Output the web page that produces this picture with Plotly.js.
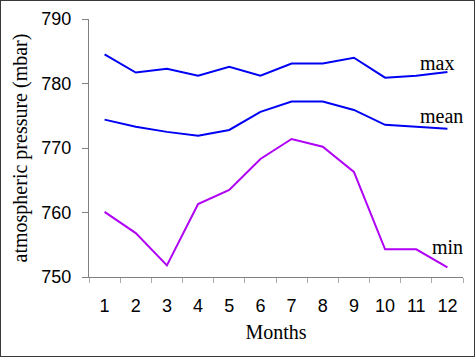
<!DOCTYPE html>
<html>
<head>
<meta charset="utf-8">
<script src="https://cdn.plot.ly/plotly-3.0.1.min.js"></script>
<style>
html,body{margin:0;padding:0;background:#fff;}
#chart{width:473px;height:355px;border:1px solid #3a3a3a;}
</style>
</head>
<body>
<div id="chart"></div>
<script>
const months = ['1','2','3','4','5','6','7','8','9','10','11','12'];
const maxValues  = [784.5, 781.7, 782.3, 781.2, 782.6, 781.2, 783.1, 783.1, 784.0, 780.9, 781.2, 781.8];
const meanValues = [774.4, 773.3, 772.5, 771.9, 772.8, 775.6, 777.2, 777.2, 775.9, 773.6, 773.3, 773.0];
const minValues  = [760.1, 756.8, 751.8, 761.3, 763.5, 768.3, 771.4, 770.2, 766.3, 754.3, 754.3, 751.5];
const seriesNames = ['max', 'mean', 'min'];
const yTicks = [750, 760, 770, 780, 790];

const blue = '#0000F5';
const purple = '#B000F5';

const traces = [
  {x: months, y: maxValues, name: seriesNames[0], mode: 'lines', line: {color: blue, width: 2}},
  {x: months, y: meanValues, name: seriesNames[1], mode: 'lines', line: {color: blue, width: 2}},
  {x: months, y: minValues, name: seriesNames[2], mode: 'lines', line: {color: purple, width: 2}}
];

const serif = 'Liberation Serif, Times New Roman, serif';
const sans = 'Liberation Sans, Arial, sans-serif';

const layout = {
  width: 473, height: 355,
  margin: {l: 88, r: 11, t: 18, b: 79},
  paper_bgcolor: '#fff', plot_bgcolor: '#fff',
  showlegend: false,
  xaxis: {
    type: 'category',
    tickson: 'boundaries',
    range: [-0.5, 11.5],
    ticks: 'outside', ticklen: 5, tickcolor: '#aaaaaa', tickwidth: 1,
    ticklabelstandoff: 12,
    showline: true, linecolor: '#808080', linewidth: 1,
    showgrid: false, zeroline: false,
    tickfont: {family: sans, size: 18, color: '#000'},
    title: {text: 'Months', font: {family: serif, size: 20, color: '#000'}, standoff: 10}
  },
  yaxis: {
    range: [750, 790],
    tickvals: yTicks,
    ticks: 'outside', ticklen: 6, tickcolor: '#808080', tickwidth: 1,
    ticklabelstandoff: 7,
    showline: true, linecolor: '#808080', linewidth: 1,
    showgrid: false, zeroline: false,
    tickfont: {family: sans, size: 18, color: '#000'},
    title: {text: 'atmospheric pressure (mbar)', font: {family: serif, size: 20, color: '#000'}, standoff: 8}
  },
  annotations: [
    {x: 10.05, y: 783.2, xref: 'x', yref: 'y', text: seriesNames[0], showarrow: false, xanchor: 'left', yanchor: 'middle', font: {family: serif, size: 20, color: '#000'}},
    {x: 10.05, y: 775.0, xref: 'x', yref: 'y', text: seriesNames[1], showarrow: false, xanchor: 'left', yanchor: 'middle', font: {family: serif, size: 20, color: '#000'}},
    {x: 10.45, y: 754.6, xref: 'x', yref: 'y', text: seriesNames[2], showarrow: false, xanchor: 'left', yanchor: 'middle', font: {family: serif, size: 20, color: '#000'}}
  ]
};

Plotly.newPlot('chart', traces, layout, {displayModeBar: false, staticPlot: true});
</script>
</body>
</html>
